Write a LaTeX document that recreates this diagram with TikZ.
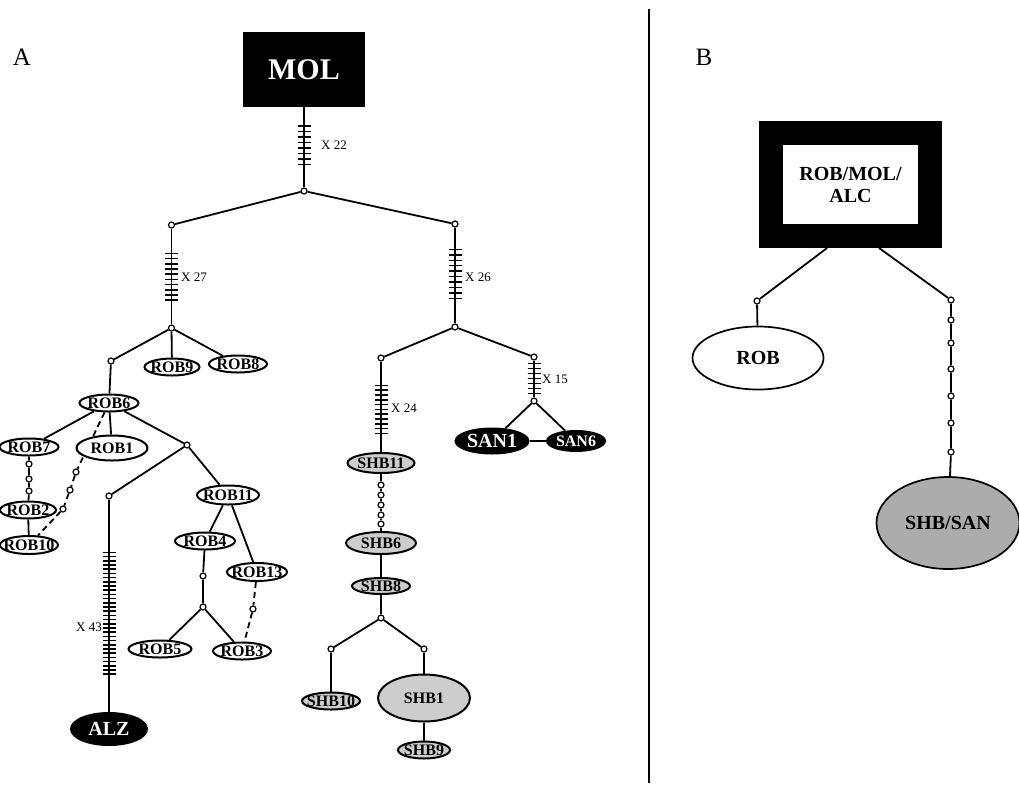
\documentclass[tikz,border=0pt]{standalone}
\usepackage{fontspec}
\setmainfont{Liberation Serif}
\definecolor{shbgray}{RGB}{205,205,205}
\definecolor{poolgray}{RGB}{172,172,172}
\usetikzlibrary{shapes.geometric,decorations.markings,backgrounds,calc}

\begin{document}
\begin{tikzpicture}[x=1pt, y=-1pt,
  link/.style={line width=1.8pt},
  dlink/.style={line width=1.8pt, dash pattern=on 6pt off 4pt},
  mhap/.style={circle, draw, fill=white, line width=1.2pt, inner sep=0pt, minimum size=6pt},
  hap/.style={ellipse, draw, line width=2pt, fill=white, inner xsep=-6pt, inner ysep=-4pt, font=\fontsize{16}{16}\selectfont\bfseries},
  hapg/.style={hap, fill=shbgray},
  hapb/.style={hap, fill=black, text=white},
  sz/.style 2 args={minimum width=#1pt, minimum height=#2pt},
  xlab/.style={font=\fontsize{13}{13}\selectfont, inner sep=0pt},
  panel/.style={font=\fontsize{25}{25}\selectfont},
  ticks/.style n args={3}{postaction={decorate, decoration={markings,
      mark=between positions #1pt and #2pt step #3pt with {\draw[line width=1.5pt] (0pt,-6.5pt) -- (0pt,6.5pt);}}}}
]
  \useasboundingbox (0,0) rectangle (1019,785);

  % Panel A: network
  \node[panel] (lblA) at (22,57) {A};
  \node[fill=black, text=white, minimum width=122pt, minimum height=75pt, font=\fontsize{30}{30}\selectfont\bfseries] (mol) at (304,69.5) {MOL};
  \node[mhap] (j0) at (304,191) {};
  \node[mhap] (j1) at (171.5,225) {};
  \node[mhap] (j2) at (455,224) {};
  \node[mhap] (j3) at (171.5,328) {};
  \node[mhap] (j4) at (455,327) {};
  \node[xlab, anchor=west] (x22) at (321,145) {X 22};
  \node[xlab, anchor=west] (x27) at (181,277) {X 27};
  \node[xlab, anchor=west] (x26) at (465,277) {X 26};

  % ROB branch
  \node[hap, sz={55}{17}] (rob9) at (172,367) {ROB9};
  \node[hap, sz={58}{17}] (rob8) at (238,364) {ROB8};
  \node[mhap] (j11) at (111,361) {};
  \node[hap, sz={59}{17}] (rob6) at (109,403) {ROB6};
  \node[hap, sz={59}{17}] (rob7) at (29,447) {ROB7};
  \node[hap, sz={71}{25}] (rob1) at (112,448) {ROB1};
  \node[mhap] (r1) at (29,464) {};
  \node[mhap] (r2) at (29,479) {};
  \node[mhap] (r3) at (29,491) {};
  \node[hap, sz={56}{17}] (rob2) at (28,510) {ROB2};
  \node[hap, sz={58}{18}] (rob10) at (29,545) {ROB10};
  \node[mhap] (d1) at (76,472) {};
  \node[mhap] (d2) at (70,490) {};
  \node[mhap] (d3) at (63,509) {};
  \node[mhap] (j12) at (187,445) {};
  \node[mhap] (j13) at (109,496) {};
  \node[hap, sz={62}{19}] (rob11) at (228,495) {ROB11};
  \node[hap, sz={60}{17}] (rob4) at (205,541) {ROB4};
  \node[hap, sz={60}{18}] (rob13) at (257,572) {ROB13};
  \node[mhap] (r4) at (203,576) {};
  \node[mhap] (j14) at (203,607) {};
  \node[mhap] (d4) at (253,609) {};
  \node[hap, sz={63}{17}] (rob5) at (160,649) {ROB5};
  \node[hap, sz={58}{17}] (rob3) at (242,651) {ROB3};
  \node[hapb, sz={76}{32}, font=\fontsize{20}{20}\selectfont\bfseries] (alz) at (109,729) {ALZ};
  \node[xlab, anchor=east] (x43) at (102,627) {X 43};

  % SHB / SAN branch
  \node[mhap] (j5) at (381,358) {};
  \node[mhap] (j6) at (534,357) {};
  \node[mhap] (j7) at (534,401) {};
  \node[xlab, anchor=west] (x24) at (391,408) {X 24};
  \node[xlab, anchor=west] (x15) at (542,379) {X 15};
  \node[hapb, sz={73}{25}, font=\fontsize{20}{20}\selectfont\bfseries] (san1) at (492,441) {SAN1};
  \node[hapb, sz={58}{20}] (san6) at (576,441) {SAN6};
  \node[hapg, sz={67}{20}] (shb11) at (381,463) {SHB11};
  \foreach \y [count=\i] in {485,495,505,515,524}
    \node[mhap] (s\i) at (381,\y) {};
  \node[hapg, sz={70}{22}] (shb6) at (381,543) {SHB6};
  \node[hapg, sz={58}{16}] (shb8) at (381,586) {SHB8};
  \node[mhap] (j8) at (381,618) {};
  \node[mhap] (j9) at (331,649) {};
  \node[mhap] (j10) at (424,649) {};
  \node[hapg, sz={58}{17}] (shb10) at (331,701) {SHB10};
  \node[hapg, sz={92}{47}] (shb1) at (424,698) {SHB1};
  \node[hapg, sz={52}{17}] (shb9) at (424,750) {SHB9};

  % divider
  \coordinate (divtop) at (649,9);
  \coordinate (divbot) at (649,783);
  \draw[line width=2pt] (divtop) -- (divbot);

  % Panel B: pooled
  \node[panel] (lblB) at (704,57) {B};
  \node[draw, line width=24pt, minimum width=159pt, minimum height=103pt, inner sep=0pt, align=center, font=\fontsize{20}{22}\selectfont\bfseries] (pool) at (850.5,184.5) {ROB/MOL/\\ALC};
  \node[mhap] (b1) at (757,301) {};
  \node[hap, sz={131}{63}, line width=1.7pt, font=\fontsize{20}{20}\selectfont\bfseries] (robB) at (758,358) {ROB};
  \foreach \y [count=\i] in {300,320,343,369,396,423,452}
    \node[mhap] (cb\i) at (951,\y) {};
  \node[hap, fill=poolgray, sz={143}{92}, line width=1.7pt, font=\fontsize{20}{20}\selectfont\bfseries] (shbsan) at (948,523) {SHB/SAN};

  \begin{scope}[on background layer]
    \draw[link, ticks={18.8}{58}{5.5}] (mol) -- (j0);
    \draw[link] (j1) -- (j0) -- (j2);
    \draw[link, ticks={24.8}{72}{5.2}] (j1) -- (j3);
    \draw[link, ticks={21.8}{71}{5.44}] (j2) -- (j4);
    \draw[link] (j3) -- (j11);
    \draw[link] (j3) -- (rob9);
    \draw[link] (j3) -- (rob8);
    \draw[link] (j11) -- (rob6);
    \draw[link] (rob6) -- (rob7);
    \draw[link] (rob6) -- (rob1);
    \draw[link] (rob6) -- (j12);
    \draw[dlink] (rob6) -- (d1) -- (d2) -- (d3) -- (rob10);
    \draw[link] (rob7) -- (r1) -- (r2) -- (r3) -- (rob2) -- (rob10);
    \draw[link] (j12) -- (j13);
    \draw[link] (j12) -- (rob11);
    \draw[link, ticks={52.8}{177}{4.2}] (j13) -- (alz);
    \draw[link] (rob11) -- (rob4);
    \draw[link] (rob11) -- (rob13);
    \draw[link] (rob4) -- (r4) -- (j14);
    \draw[link] (j14) -- (rob5);
    \draw[link] (j14) -- (rob3);
    \draw[dlink] (rob13) -- (d4) -- (rob3);
    \draw[link] (j5) -- (j4) -- (j6);
    \draw[link, ticks={23.8}{72}{4.8}] (j5) -- (shb11);
    \draw[link, ticks={2.8}{33}{5}] (j6) -- (j7);
    \draw[link] (j7) -- (san1);
    \draw[link] (j7) -- (san6);
    \draw[link] (san1) -- (san6);
    \draw[link] (shb11) -- (s1) -- (s2) -- (s3) -- (s4) -- (s5) -- (shb6) -- (shb8) -- (j8);
    \draw[link] (j9) -- (j8) -- (j10);
    \draw[link] (j9) -- (shb10);
    \draw[link] (j10) -- (shb1) -- (shb9);
    \draw[link] ($(pool.south west)!0.372!(pool.south east)$) -- (b1) -- (robB);
    \draw[link] ($(pool.south west)!0.656!(pool.south east)$) -- (cb1);
    \draw[link] (cb1) -- (cb2) -- (cb3) -- (cb4) -- (cb5) -- (cb6) -- (cb7) -- (shbsan);
  \end{scope}
\end{tikzpicture}
\end{document}
